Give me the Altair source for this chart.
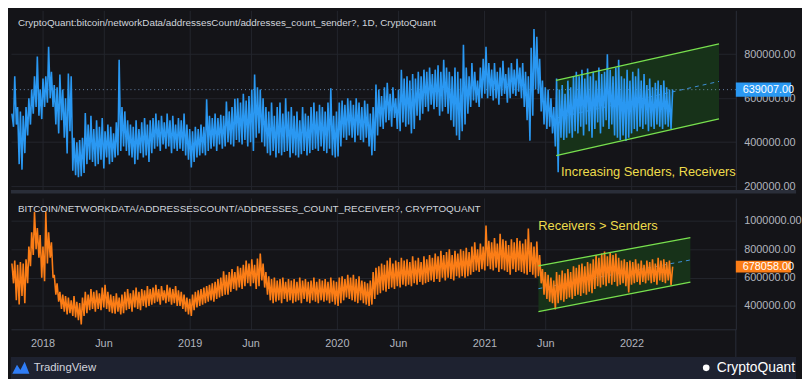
import altair as alt
import pandas as pd

# ---------------- data (thousands) ----------------
FIRST_WEEK = "2017-10-16"
LAST_DATE = "2022-04-13"

sender_hi = [
    530, 700, 560, 540, 520, 560, 600, 640, 700, 790,
    640, 690, 700, 834, 720, 660, 650, 708, 640, 600,
    712, 700, 420, 400, 410, 420, 533, 480, 520, 460,
    500, 470, 510, 450, 480, 470, 440, 490, 775, 560,
    540, 500, 480, 470, 500, 460, 490, 510, 480, 500,
    510, 530, 500, 520, 490, 530, 500, 520, 480, 510,
    500, 530, 480, 460, 450, 470, 460, 480, 470, 595,
    520, 510, 530, 510, 525, 520, 585, 540, 560, 598,
    600, 580, 620, 590, 610, 640, 708, 650, 640, 600,
    560, 540, 580, 520, 560, 580, 530, 600, 540, 560,
    520, 540, 500, 560, 530, 520, 560, 580, 540, 570,
    560, 540, 580, 645, 520, 540, 580, 590, 570, 600,
    590, 570, 600, 580, 560, 590, 575, 530, 560, 662,
    640, 610, 650, 670, 620, 650, 600, 640, 730, 690,
    700, 680, 710, 690, 720, 700, 730, 720, 740, 710,
    730, 750, 720, 775, 740, 720, 700, 740, 720, 690,
    843, 740, 700, 760, 720, 680, 740, 780, 834, 760,
    730, 760, 720, 740, 770, 710, 740, 760, 730, 780,
    740, 760, 720, 700, 830, 915, 880, 780, 680, 650,
    640, 600, 560, 690, 640, 660, 620, 680, 650, 700,
    720, 700, 730, 690, 735, 700, 720, 680, 740, 710,
    720, 800, 730, 700, 740, 775, 700, 690, 730, 680,
    720, 700, 735, 680, 710, 660, 690, 650, 670, 680,
    660, 680, 650, 640,
]
sender_lo = [
    470, 480, 300, 275, 350, 430, 480, 530, 560, 520,
    505, 560, 580, 600, 560, 480, 440, 500, 420, 348,
    450, 270, 250, 240, 245, 260, 300, 320, 310, 290,
    300, 320, 280, 330, 300, 310, 330, 340, 360, 380,
    360, 340, 330, 300, 320, 350, 330, 340, 310, 350,
    370, 380, 360, 390, 370, 380, 350, 370, 360, 370,
    360, 340, 320, 285, 310, 330, 340, 350, 340, 360,
    370, 380, 360, 390, 370, 380, 400, 390, 380, 410,
    400, 390, 410, 380, 400, 360, 420, 440, 400, 380,
    350, 340, 360, 330, 350, 340, 355, 360, 330, 350,
    340, 330, 345, 360, 340, 350, 365, 370, 360, 380,
    360, 350, 370, 340, 330, 335, 380, 420, 410, 430,
    420, 400, 430, 410, 400, 420, 380, 340, 360, 430,
    470, 460, 490, 500, 470, 510, 460, 450, 490, 470,
    480, 440, 460, 520, 500, 530, 560, 540, 570, 550,
    560, 520, 540, 560, 530, 500, 470, 430, 410, 450,
    480, 530, 560, 590, 580, 560, 600, 620, 600, 610,
    590, 600, 570, 610, 620, 580, 600, 620, 610, 630,
    600, 560, 500, 407, 520, 640, 620, 540, 480, 460,
    470, 440, 380, 263, 420, 410, 420, 440, 420, 450,
    440, 470, 430, 480, 450, 420, 460, 490, 440, 470,
    500, 460, 480, 430, 420, 410, 430, 405, 420, 440,
    460, 450, 470, 460, 480, 450, 470, 460, 480, 470,
    460, 480, 470, 460,
]
sender_last = 639007

receiver_hi = [
    700, 720, 690, 710, 700, 730, 820, 920, 1064, 950,
    900, 820, 1064, 920, 850, 620, 560, 500, 480, 470,
    460, 440, 470, 430, 420, 460, 500, 480, 520, 500,
    510, 490, 530, 550, 500, 480, 470, 490, 460, 480,
    500, 520, 490, 510, 530, 500, 520, 510, 540, 520,
    530, 550, 520, 540, 510, 550, 530, 520, 540, 510,
    500, 480, 460, 450, 480, 500, 510, 520, 530, 540,
    550, 560, 570, 590, 600, 645, 620, 640, 660, 640,
    680, 670, 690, 720, 700, 730, 690, 735, 770, 700,
    640, 610, 590, 600, 580, 590, 600, 570, 590, 580,
    590, 570, 600, 580, 590, 570, 580, 600, 570, 590,
    580, 590, 570, 600, 580, 570, 600, 610, 590, 620,
    600, 620, 590, 610, 580, 570, 560, 580, 640, 670,
    680, 700, 690, 720, 740, 700, 720, 710, 740, 720,
    730, 710, 750, 720, 740, 710, 750, 730, 760, 740,
    770, 750, 790, 760, 780, 800, 760, 790, 770, 800,
    790, 810, 780, 820, 850, 800, 840, 820, 967, 860,
    850, 880, 840, 910, 870, 860, 830, 870, 850, 880,
    860, 840, 870, 946, 850, 820, 855, 760, 660, 640,
    620, 600, 580, 640, 620, 650, 630, 660, 640, 680,
    670, 690, 700, 680, 710, 700, 730, 760, 740, 770,
    785, 750, 780, 760, 770, 740, 720, 730, 710, 720,
    710, 730, 700, 720, 690, 720, 710, 730, 700, 740,
    720, 730, 710, 720,
]
receiver_lo = [
    560, 440, 410, 470, 420, 560, 680, 760, 800, 740,
    600, 575, 700, 740, 600, 480, 430, 380, 360, 340,
    350, 330, 320, 300, 270, 330, 350, 370, 380, 360,
    380, 370, 390, 380, 360, 350, 345, 360, 340, 350,
    370, 380, 360, 390, 380, 370, 400, 390, 400, 410,
    420, 430, 410, 440, 420, 430, 410, 420, 400, 400,
    380, 360, 340, 330, 370, 390, 400, 410, 420, 430,
    440, 430, 450, 460, 470, 480, 480, 500, 520, 510,
    530, 520, 540, 560, 540, 560, 520, 540, 580, 530,
    480, 440, 420, 430, 440, 420, 450, 430, 440, 420,
    430, 440, 420, 450, 430, 420, 440, 430, 420, 440,
    430, 440, 420, 430, 410, 400, 420, 440, 460, 450,
    440, 430, 420, 440, 420, 410, 400, 410, 450, 480,
    490, 510, 500, 520, 530, 520, 540, 530, 550, 540,
    550, 540, 560, 550, 570, 550, 560, 570, 580, 570,
    590, 570, 600, 580, 600, 590, 580, 610, 600, 610,
    600, 610, 620, 640, 650, 640, 660, 650, 680, 660,
    650, 670, 640, 660, 650, 640, 620, 660, 640, 650,
    640, 630, 620, 640, 620, 600, 610, 560, 480, 450,
    430, 420, 375, 420, 440, 430, 450, 460, 450, 470,
    480, 470, 490, 480, 500, 490, 520, 540, 530, 550,
    540, 560, 550, 570, 540, 550, 560, 540, 495, 550,
    560, 570, 550, 570, 560, 580, 560, 570, 550, 580,
    570, 560, 580, 545,
]
receiver_last = 678058

tick_dates = ["2018-01-01", "2018-06-01", "2019-01-01", "2019-06-01", "2020-01-01",
              "2020-06-01", "2021-01-01", "2021-06-01", "2022-01-01"]
top_ticks = [200000, 400000, 600000, 800000]
bottom_ticks = [400000, 600000, 800000, 1000000]

top_channel_dates = ["2021-06-28", "2022-08-06"]
top_channel_upper = [681000, 847000]
top_channel_lower = [339000, 506000]
bottom_channel_dates = ["2021-05-15", "2022-05-27"]
bottom_channel_upper = [683600, 881500]
bottom_channel_lower = [361000, 568000]

TOP_TITLE = "CryptoQuant:bitcoin/networkData/addressesCount/addresses_count_sender?, 1D, CryptoQuant"
BOTTOM_TITLE = "BITCOIN/NETWORKDATA/ADDRESSESCOUNT/ADDRESSES_COUNT_RECEIVER?, CRYPTOQUANT"
TOP_NOTE = "Increasing Senders, Receivers"
BOTTOM_NOTE = "Receivers > Senders"

# ---------------- styling / layout ----------------
BG = "#141418"
FRAME = "#1e2230"
SEP = "#2a2e39"
GRID = "#24262d"
LBL = "#b2b5be"
BLUE = "#2a98f2"
ORANGE = "#fb7d16"
GREEN = "#78e04e"
FILL = "#173219"
YELLOW = "#eedc4c"
FONT = "Liberation Sans"

W = 734
H1 = 182
H2 = 133
TOP_DOMAIN = [182000, 1000000]
BOT_DOMAIN = [235500, 1162000]

xscale = alt.Scale(type="utc", nice=False, domain=[
    alt.DateTime(year=2017, month=10, date=14, hours=15, utc=True),
    alt.DateTime(year=2022, month=9, date=16, hours=17, utc=True)])

tick_dt = [alt.DateTime(year=int(d[:4]), month=int(d[5:7]), date=int(d[8:]), utc=True)
           for d in tick_dates]

x_axis_top = alt.Axis(values=tick_dt, labels=False, ticks=False, domain=False,
                      grid=True, gridColor=GRID, title=None)
x_axis_bot = alt.Axis(values=tick_dt, ticks=False, domain=True, domainColor=SEP,
                      grid=True, gridColor=GRID, title=None, labelColor=LBL,
                      labelFontSize=11, labelPadding=8, labelOverlap=False,
                      labelFont=FONT, labelFlush=False,
                      labelExpr="utcmonth(datum.value) == 0 ? utcFormat(datum.value, '%Y') : utcFormat(datum.value, '%b')")


def y_axis(ticks):
    return alt.Axis(orient="right", values=ticks, format=".2f", grid=True,
                    gridColor=GRID, ticks=False, domain=True, domainColor=SEP,
                    labelColor=LBL, labelFontSize=11, labelPadding=8,
                    labelAlign="left", labelFont=FONT, title=None)


def series_frame(hi, lo, last):
    base = pd.Timestamp(FIRST_WEEK)
    rows = []
    for i, (h, l) in enumerate(zip(hi, lo)):
        rows.append(((base + pd.Timedelta(days=7 * i + 1)).strftime("%Y-%m-%d"), h * 1000))
        rows.append(((base + pd.Timedelta(days=7 * i + 5)).strftime("%Y-%m-%d"), l * 1000))
    rows.append((LAST_DATE, last))
    return pd.DataFrame(rows, columns=["date", "value"])


def panel(hi, lo, last, ch_dates, ch_up, ch_lo, domain, ticks, height, color,
          title_txt, title_y, note_txt, note_x, note_y, box_half_px, xaxis, price_line):
    ys = alt.Scale(domain=domain, nice=False, zero=False)
    yax = y_axis(ticks)
    px_val = (domain[1] - domain[0]) / height

    def X(f="date"):
        return alt.X(f"{f}:T", scale=xscale, axis=xaxis)

    def Y(f):
        return alt.Y(f"{f}:Q", scale=ys, axis=yax)

    series = series_frame(hi, lo, last)
    ch = pd.DataFrame({"date": ch_dates, "upper": ch_up, "lower": ch_lo})
    ch["mid"] = (ch["upper"] + ch["lower"]) / 2
    lastdf = pd.DataFrame({"value": [last], "lo": [last - box_half_px * px_val],
                           "hi": [last + box_half_px * px_val],
                           "label": [f"{last:.2f}"]})

    area = alt.Chart(ch).mark_area(color=FILL, opacity=1).encode(
        x=X(), y=Y("lower"), y2="upper:Q")
    mid = alt.Chart(ch).mark_line(color="#3d8fd8", strokeDash=[4, 4], strokeWidth=1).encode(
        x=X(), y=Y("mid"))
    line = alt.Chart(series).mark_line(color=color, strokeWidth=1.6).encode(
        x=X(), y=Y("value"))
    up = alt.Chart(ch).mark_line(color=GREEN, strokeWidth=1.3).encode(x=X(), y=Y("upper"))
    low = alt.Chart(ch).mark_line(color=GREEN, strokeWidth=1.3).encode(x=X(), y=Y("lower"))
    ttl = alt.Chart(pd.DataFrame({"t": [title_txt]})).mark_text(
        align="left", baseline="middle", color="#d1d4dc", fontSize=10, font=FONT).encode(
        text="t:N", x=alt.value(7), y=alt.value(title_y))
    note = alt.Chart(pd.DataFrame({"t": [note_txt]})).mark_text(
        align="left", baseline="middle", color=YELLOW, fontSize=13, font=FONT).encode(
        text="t:N", x=alt.value(note_x), y=alt.value(note_y))
    box = alt.Chart(lastdf).mark_rect(color=color).encode(
        y=Y("lo"), y2="hi:Q", x=alt.value(W), x2=alt.value(W + 56))
    boxt = alt.Chart(lastdf).mark_text(align="left", baseline="middle", color="white",
                                       fontSize=11, font=FONT).encode(
        y=Y("value"), text="label:N", x=alt.value(W + 7))
    layers = [area, mid]
    if price_line:
        layers.append(alt.Chart(lastdf).mark_rule(
            color="#8fb8e8", strokeDash=[1, 3], strokeWidth=1, opacity=0.7).encode(y=Y("value")))
    return layers + [line, up, low, ttl, note, box, boxt]


dummy = pd.DataFrame({"k": [0]})

top_layers = panel(sender_hi, sender_lo, sender_last, top_channel_dates, top_channel_upper,
                   top_channel_lower, TOP_DOMAIN, top_ticks, H1, BLUE, TOP_TITLE, 13,
                   TOP_NOTE, 557, 164, 7.3, x_axis_top, True)
sep = alt.Chart(dummy).mark_rect(color=SEP).encode(
    x=alt.value(0), x2=alt.value(795), y=alt.value(H1), y2=alt.value(H1 + 3.5))
top = alt.layer(*top_layers, sep).properties(width=W, height=H1)

bot_layers = panel(receiver_hi, receiver_lo, receiver_last, bottom_channel_dates,
                   bottom_channel_upper, bottom_channel_lower, BOT_DOMAIN, bottom_ticks, H2,
                   ORANGE, BOTTOM_TITLE, 11, BOTTOM_NOTE, 534, 28, 6, x_axis_bot, False)
vsep = alt.Chart(dummy).mark_rule(color=SEP, strokeWidth=1).encode(
    x=alt.value(W), y=alt.value(H2), y2=alt.value(H2 + 28))
footer = alt.Chart(dummy).mark_rect(color=FRAME).encode(
    x=alt.value(0), x2=alt.value(795), y=alt.value(H2 + 28), y2=alt.value(H2 + 52))
tv_logo = alt.Chart(dummy).mark_point(
    shape="M-1,0.7 L-0.45,-0.35 L-0.05,0.25 L0.45,-0.7 L1,0.7 Z", filled=True,
    color="#2f7df6", size=300, opacity=1).encode(x=alt.value(10), y=alt.value(H2 + 39))
tv_text = alt.Chart(pd.DataFrame({"t": ["TradingView"]})).mark_text(
    align="left", baseline="middle", color="#d1d4dc", fontSize=11.5, font=FONT).encode(
    text="t:N", x=alt.value(23), y=alt.value(H2 + 39))
cq_dot = alt.Chart(dummy).mark_point(shape="circle", filled=True, color="white", size=45,
                                     opacity=1).encode(x=alt.value(704), y=alt.value(H2 + 39))
cq_text = alt.Chart(pd.DataFrame({"t": ["CryptoQuant"]})).mark_text(
    align="right", baseline="middle", color="white", fontSize=14, font=FONT).encode(
    text="t:N", x=alt.value(794), y=alt.value(H2 + 39))

bottom = alt.layer(*bot_layers, vsep, footer, tv_logo, tv_text, cq_dot, cq_text).properties(
    width=W, height=H2)

chart = alt.vconcat(top, bottom, spacing=4).properties(
    padding=0, background=BG).configure(font=FONT).configure_view(strokeWidth=0)

chart.save("out.html", embed_options={"renderer": "svg", "actions": False})
